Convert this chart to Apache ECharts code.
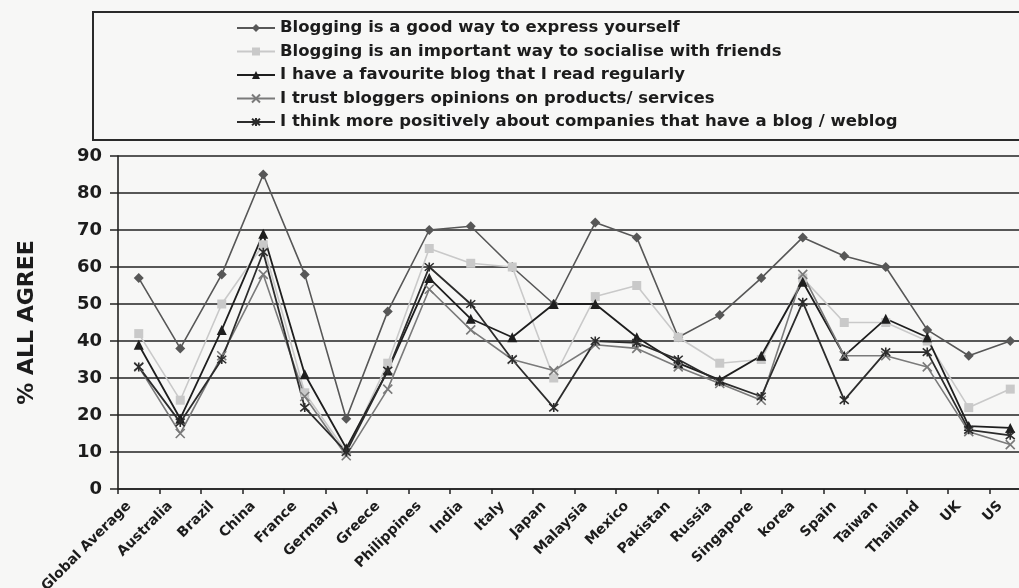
<!DOCTYPE html>
<html>
<head>
<meta charset="utf-8">
<script src="https://cdn.jsdelivr.net/npm/echarts@6/dist/echarts.min.js"></script>
<style>
  html, body { margin: 0; padding: 0; background: #f7f7f6; }
  #chart { width: 1019px; height: 588px; }
</style>
</head>
<body>
<div id="chart"></div>
<script>
// Countries surveyed, in axis order
const categories = ['Global Average', 'Australia', 'Brazil', 'China', 'France', 'Germany', 'Greece',
  'Philippines', 'India', 'Italy', 'Japan', 'Malaysia', 'Mexico', 'Pakistan', 'Russia', 'Singapore',
  'korea', 'Spain', 'Taiwan', 'Thailand', 'UK', 'US'];

// % of respondents agreeing with each statement
const expressYourself = [57, 38, 58, 85, 58, 19, 48, 70, 71, 60, 50, 72, 68, 41, 47, 57, 68, 63, 60, 43, 36, 40];
const socialiseFriends = [42, 24, 50, 66, 26, 10, 34, 65, 61, 60, 30, 52, 55, 41, 34, 35, 57, 45, 45, 40, 22, 27];
const favouriteBlog = [39, 19, 43, 69, 31, 11, 32, 57, 46, 41, 50, 50, 41, 34, 29.5, 36, 56, 36, 46, 41, 17, 16.5];
const trustBloggers = [33, 15, 36, 58, 25, 9, 27, 54, 43, 35, 32, 39, 38, 33, 28.5, 24, 58, 36, 36, 33, 15.5, 12];
const companiesBlog = [33, 18, 35, 64, 22, 10, 32, 60, 50, 35, 22, 40, 39.5, 35, 29, 25, 50.5, 24, 37, 37, 16, 14.5];

const yTicks = [0, 10, 20, 30, 40, 50, 60, 70, 80, 90];

const seriesNames = [
  'Blogging is a good way to express yourself',
  'Blogging is an important way to socialise with friends',
  'I have a favourite blog that I read regularly',
  'I trust bloggers opinions on products/ services',
  'I think more positively about companies that have a blog / weblog'
];

const FONT = 'DejaVu Sans';
const X_MARK = 'path://M0,0L10,10M10,0L0,10';
const STAR_MARK = 'path://M0,0L10,10M10,0L0,10M5,-1L5,11';

function lineSeries(name, data, color, symbol, size, width, stroked) {
  return {
    name: name,
    type: 'line',
    data: data,
    symbol: symbol,
    symbolSize: size,
    showAllSymbol: true,
    animation: false,
    lineStyle: { color: color, width: width },
    itemStyle: stroked
      ? { color: 'rgba(0,0,0,0)', borderColor: color, borderWidth: 1.6 }
      : { color: color, borderColor: color, borderWidth: 0 },
    emphasis: { disabled: true }
  };
}

const chart = echarts.init(document.getElementById('chart'), null, { renderer: 'canvas' });

chart.setOption({
  backgroundColor: '#f7f7f6',
  animation: false,
  textStyle: { fontFamily: FONT },
  graphic: [{
    type: 'rect',
    shape: { x: 93, y: 12, width: 960, height: 128 },
    style: { fill: 'rgba(0,0,0,0)', stroke: '#2a2a2a', lineWidth: 2 },
    z: 0
  }],
  legend: {
    orient: 'vertical',
    left: 236,
    top: 18,
    padding: 0,
    itemWidth: 38,
    itemHeight: 10,
    itemGap: 3.5,
    data: seriesNames,
    textStyle: {
      fontFamily: FONT,
      fontWeight: 'bold',
      fontSize: 16.5,
      lineHeight: 20,
      color: '#1c1c1c'
    }
  },
  grid: {
    left: 118, top: 156, right: -12, bottom: 99,
    containLabel: false,
    outerBoundsMode: 'none'
  },
  xAxis: {
    type: 'category',
    data: categories,
    boundaryGap: true,
    axisLine: { show: true, lineStyle: { color: '#222', width: 1.6 } },
    axisTick: { show: true, length: 5, lineStyle: { color: '#222', width: 1.5 } },
    axisLabel: {
      interval: 0,
      rotate: 45,
      margin: 5,
      padding: [0, 14, 0, 0],
      fontFamily: FONT,
      fontWeight: 'bold',
      fontSize: 14,
      color: '#1c1c1c'
    },
    splitLine: { show: false }
  },
  yAxis: {
    type: 'value',
    min: yTicks[0],
    max: yTicks[yTicks.length - 1],
    interval: 10,
    name: '% ALL AGREE',
    nameLocation: 'middle',
    nameRotate: 90,
    nameGap: 80,
    nameTextStyle: { fontFamily: FONT, fontWeight: 'bold', fontSize: 22, color: '#1c1c1c' },
    axisLine: { show: true, lineStyle: { color: '#222', width: 1.6 } },
    axisTick: { show: true, inside: false, length: 8, lineStyle: { color: '#222', width: 1.5 } },
    axisLabel: {
      margin: 16,
      fontFamily: FONT,
      fontWeight: 'bold',
      fontSize: 18,
      color: '#1c1c1c'
    },
    splitLine: { show: true, lineStyle: { color: '#222', width: 1.6 } }
  },
  series: [
    lineSeries(seriesNames[0], expressYourself, '#575757', 'diamond', 10, 1.6, false),
    lineSeries(seriesNames[1], socialiseFriends, '#c9c9c9', 'rect', 9, 1.6, false),
    lineSeries(seriesNames[2], favouriteBlog, '#1e1e1e', 'triangle', 10, 1.8, false),
    lineSeries(seriesNames[3], trustBloggers, '#7a7a7a', X_MARK, 9, 1.6, true),
    lineSeries(seriesNames[4], companiesBlog, '#2c2c2c', STAR_MARK, 9, 1.8, true)
  ]
});
</script>
</body>
</html>
